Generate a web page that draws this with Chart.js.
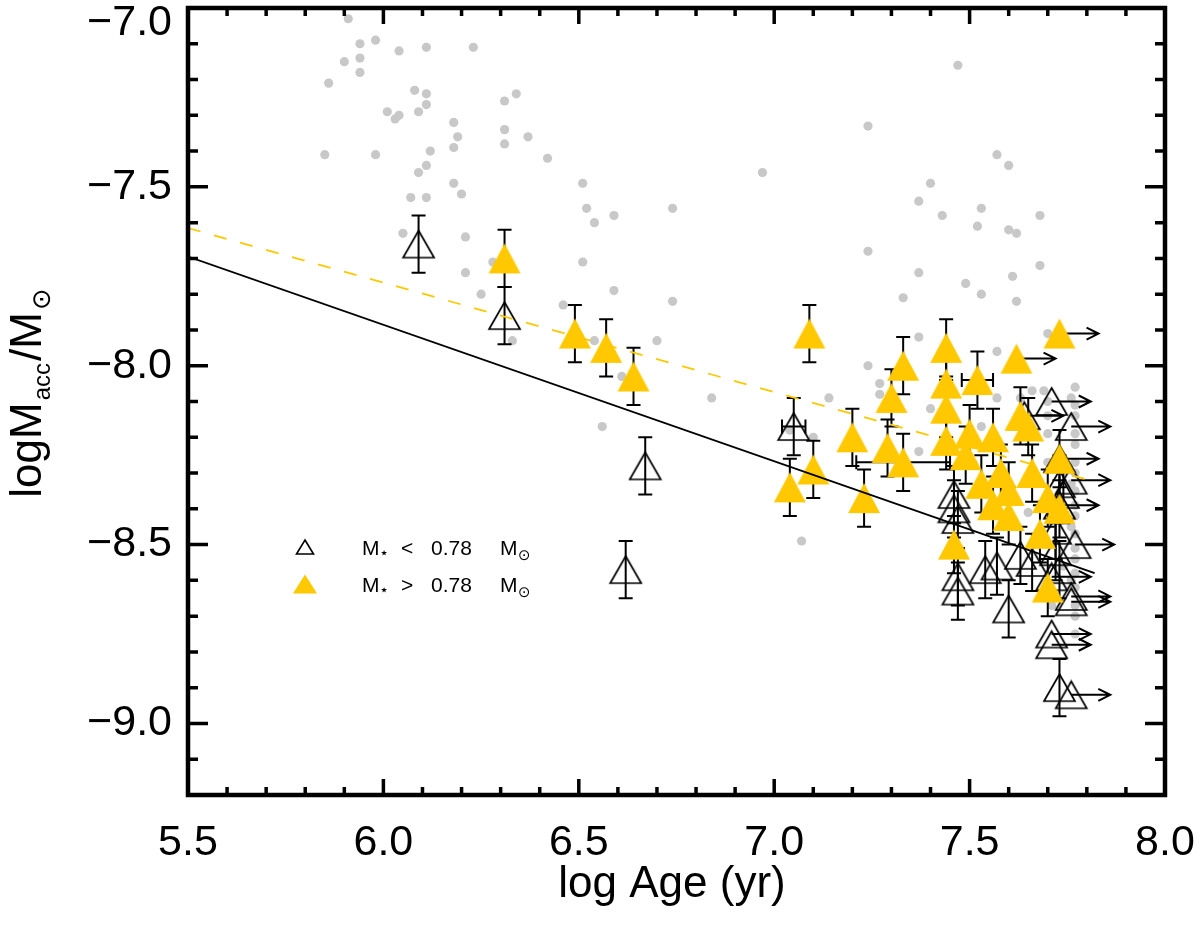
<!DOCTYPE html>
<html lang="en">
<head>
  <meta charset="UTF-8" />
  <title>logMacc vs log Age</title>
  <script src="https://cdn.jsdelivr.net/npm/chart.js"></script>
  <style>
    html, body { margin: 0; padding: 0; background: #fff; }
    canvas { display: block; }
  </style>
</head>
<body>
  <canvas id="accChart" width="1200" height="927"></canvas>

  <script>
    // ---- data ----
    const xTicks = [5.5, 6.0, 6.5, 7.0, 7.5, 8.0];
    const yTicks = [-9.0, -8.5, -8.0, -7.5, -7.0];

    // grey background sample
    const grayAge = [5.91, 5.94, 5.98, 5.90, 5.94, 5.94, 5.86, 6.04, 6.11, 6.23, 6.08, 6.11, 6.11, 6.09, 6.01, 6.03,
      6.04, 6.31, 6.34, 6.18, 6.19, 6.18, 6.31, 6.31, 6.37, 5.85, 5.98, 6.12, 6.11, 6.09, 6.42, 6.18, 6.20, 6.07,
      6.11, 6.51, 6.52, 6.54, 6.05, 6.21, 6.51, 6.21, 6.28, 6.25, 6.46, 6.33, 6.54,
      7.47, 7.24, 7.57, 6.97, 7.40, 7.37, 7.43, 7.53, 7.52, 6.59, 6.74, 7.24, 7.37, 7.49, 7.53, 7.33, 6.59, 6.74,
      7.37, 6.70, 7.24, 7.57, 7.62, 7.70, 7.27, 7.27, 7.14, 7.40, 7.57, 7.63, 7.66, 7.69, 7.53, 7.10, 7.37, 6.84,
      7.04, 7.07, 6.61, 6.56, 7.60, 7.68, 7.60, 7.62, 7.68, 7.61,
      7.77, 7.77, 7.77, 7.77, 7.77, 7.77, 7.77, 7.77, 7.77, 7.77, 7.77, 7.77, 7.77, 7.77, 7.77, 7.77, 7.77, 7.77,
      7.76, 7.76, 7.76, 7.76, 7.70, 7.70, 7.70, 7.70, 7.65, 7.71, 7.74, 7.73];
    const grayAcc = [-7.03, -7.10, -7.09, -7.15, -7.14, -7.18, -7.21, -7.12, -7.11, -7.11, -7.23, -7.24, -7.27, -7.29,
      -7.29, -7.31, -7.30, -7.26, -7.24, -7.32, -7.36, -7.39, -7.34, -7.38, -7.36, -7.41, -7.41, -7.40, -7.44, -7.46,
      -7.42, -7.49, -7.52, -7.53, -7.53, -7.49, -7.56, -7.60, -7.63, -7.64, -7.71, -7.74, -7.71, -7.80, -7.83, -7.93,
      -7.93,
      -7.16, -7.33, -7.41, -7.46, -7.49, -7.54, -7.58, -7.56, -7.61, -7.58, -7.56, -7.68, -7.74, -7.77, -7.80, -7.81,
      -7.79, -7.82, -7.92, -7.93, -8.00, -7.96, -7.82, -7.91, -8.05, -8.08, -8.09, -8.12, -8.09, -8.09, -8.07, -8.07,
      -8.17, -8.20, -8.24, -8.09, -8.18, -8.49, -8.03, -8.17, -7.44, -7.58, -7.62, -7.63, -7.72, -7.75,
      -8.06, -8.11, -8.14, -8.19, -8.22, -8.27, -8.30, -8.35, -8.39, -8.42, -8.47, -8.51, -8.54, -8.58, -8.62, -8.67,
      -8.70, -8.75, -8.09, -8.33, -8.45, -8.60, -8.10, -8.14, -8.19, -8.27, -8.41, -8.67, -8.56, -8.38];

    // M* < 0.78 Msun (open triangles)
    const lowAge = [6.09, 6.31, 6.62, 6.67, 7.05, 7.46, 7.46, 7.47, 7.47, 7.47, 7.54, 7.57, 7.60, 7.63, 7.66, 7.73,
      7.72, 7.72, 7.73, 7.73, 7.74,
      7.71, 7.76, 7.64, 7.73, 7.76, 7.73, 7.77, 7.71, 7.76, 7.76, 7.71, 7.71, 7.76];
    const lowAcc = [-7.66, -7.86, -8.57, -8.28, -8.17, -8.36, -8.40, -8.43, -8.59, -8.63, -8.57, -8.56, -8.68, -8.53,
      -8.55, -8.90, -8.46, -8.52, -8.57, -8.33, -8.36,
      -8.10, -8.17, -8.14, -8.26, -8.32, -8.39, -8.50, -8.59, -8.645, -8.66, -8.75, -8.78, -8.92];
    const lowErr = [0.08, 0.08, 0.08, 0.08, 0.08, 0.08, 0.08, 0.08, 0.08, 0.08, 0.08, 0.08, 0.08, 0.08, 0.08, 0.08,
      0.08, 0.08, 0.08, 0.08, 0.08,
      0, 0, 0, 0, 0, 0, 0, 0, 0, 0, 0, 0, 0];
    const lowAgeErr = [0, 0, 0, 0, 0.03];
    const lowLimit = [0, 0, 0, 0, 0, 0, 0, 0, 0, 0, 0, 0, 0, 0, 0, 0, 0, 0, 0, 0, 0,
      1, 1, 1, 1, 1, 1, 1, 1, 1, 1, 1, 1, 1];

    // M* > 0.78 Msun (filled triangles)
    const highAge = [6.31, 6.49, 6.57, 6.64, 7.09, 7.04, 7.10, 7.20, 7.23, 7.33, 7.30, 7.29, 7.33, 7.44, 7.44, 7.44,
      7.44, 7.46, 7.52, 7.50, 7.56, 7.63, 7.65, 7.73, 7.53, 7.58, 7.60, 7.56, 7.60, 7.66, 7.70, 7.73, 7.68, 7.70,
      7.49, 7.62, 7.73];
    const highAcc = [-7.70, -7.91, -7.95, -8.03, -7.91, -8.34, -8.29, -8.20, -8.37, -8.00, -8.09, -8.23, -8.27, -7.95,
      -8.05, -8.12, -8.21, -8.50, -8.04, -8.19, -8.20, -8.14, -8.17, -8.26, -8.33, -8.30, -8.35, -8.39, -8.42, -8.30,
      -8.37, -8.40, -8.47, -8.62, -8.25, -7.98, -7.91];
    const highErr = [0.08, 0.08, 0.08, 0.08, 0.08, 0.08, 0.08, 0.08, 0.08, 0.08, 0.08, 0.08, 0.08, 0.08, 0.08, 0.08,
      0.08, 0.08, 0.08, 0.08, 0.08, 0.08, 0.08, 0.08, 0.08, 0.08, 0.08, 0.08, 0.08, 0.08, 0.08, 0.08, 0.08, 0.08,
      0.08, 0, 0];
    const highAgeErr = [0, 0, 0, 0, 0, 0, 0, 0, 0, 0, 0, 0, 0.12, 0, 0, 0, 0, 0, 0.04];
    const highLimit = [0, 0, 0, 0, 0, 0, 0, 0, 0, 0, 0, 0, 0, 0, 0, 0, 0, 0, 0, 0, 0, 0, 0, 0, 0, 0, 0, 0, 0, 0,
      0, 0, 0, 0, 0, 1, 1];

    // fitted relations (end points)
    const fitAge = [5.5, 7.82];
    const fitLow = [-7.695, -8.58];
    const fitHighAge = [5.5, 7.80];
    const fitHigh = [-7.615, -8.318];

    const limitLength = 0.1; // arrow length in dex

    const YELLOW = 'rgb(255,200,0)';
    const GREY = 'rgb(200,200,200)';
    const FONT = "'Liberation Sans', Arial, 'DejaVu Sans', sans-serif";

    function pts(xs, ys) {
      return xs.map((x, i) => ({ x: x, y: ys[i] }));
    }

    // triangle symbols, centred on their bounding box like the original
    function makeTriangle(w, h, fill) {
      const c = document.createElement('canvas');
      c.width = w + 4;
      c.height = h + 4;
      const g = c.getContext('2d');
      g.beginPath();
      g.moveTo(c.width / 2, 2);
      g.lineTo(w + 2, h + 2);
      g.lineTo(2, h + 2);
      g.closePath();
      if (fill) {
        g.fillStyle = fill;
        g.fill();
      } else {
        g.lineWidth = 1.7;
        g.strokeStyle = '#000';
        g.stroke();
      }
      return c;
    }
    const openTri = makeTriangle(31, 27, null);
    const fullTri = makeTriangle(32, 30, YELLOW);

    function drawBars(ctx, xs, ys, age, acc, err, ageErr, lim) {
      ctx.strokeStyle = '#000';
      ctx.lineWidth = 2;
      const cap = 7;
      age.forEach((a, i) => {
        const px = xs.getPixelForValue(a);
        const py = ys.getPixelForValue(acc[i]);
        ctx.beginPath();
        if (err[i]) {
          const t = ys.getPixelForValue(acc[i] + err[i]);
          const b = ys.getPixelForValue(acc[i] - err[i]);
          ctx.moveTo(px, t); ctx.lineTo(px, b);
          ctx.moveTo(px - cap, t); ctx.lineTo(px + cap, t);
          ctx.moveTo(px - cap, b); ctx.lineTo(px + cap, b);
        }
        if (ageErr[i]) {
          const l = xs.getPixelForValue(a - ageErr[i]);
          const r = xs.getPixelForValue(a + ageErr[i]);
          ctx.moveTo(l, py); ctx.lineTo(r, py);
          ctx.moveTo(l, py - cap); ctx.lineTo(l, py + cap);
          ctx.moveTo(r, py - cap); ctx.lineTo(r, py + cap);
        }
        if (lim[i]) {
          const tip = xs.getPixelForValue(a + limitLength);
          ctx.moveTo(px, py); ctx.lineTo(tip, py);
          ctx.moveTo(tip - 12, py - 6); ctx.lineTo(tip, py); ctx.lineTo(tip - 12, py + 6);
        }
        ctx.stroke();
      });
    }

    function legendTri(ctx, cx, cy, w, h, fill) {
      ctx.beginPath();
      ctx.moveTo(cx, cy - h / 2);
      ctx.lineTo(cx + w / 2, cy + h / 2);
      ctx.lineTo(cx - w / 2, cy + h / 2);
      ctx.closePath();
      if (fill) { ctx.fillStyle = fill; ctx.fill(); }
      else { ctx.strokeStyle = '#000'; ctx.lineWidth = 1.6; ctx.stroke(); }
    }

    function legendText(ctx, y, sign) {
      ctx.fillStyle = '#000';
      ctx.textBaseline = 'alphabetic';
      ctx.textAlign = 'left';
      ctx.font = '21px ' + FONT;
      ctx.fillText('M', 362, y + 8);
      ctx.fillText(sign, 401, y + 8);
      ctx.fillText('0.78', 431, y + 8);
      ctx.fillText('M', 500, y + 8);
      ctx.font = 'bold 13px ' + FONT;
      ctx.fillText('\u22C6', 380, y + 10);
      ctx.font = '15px ' + FONT;
      ctx.fillText('\u2299', 518, y + 13);
    }

    const extras = {
      id: 'extras',
      afterDatasetDraw(chart, args) {
        // error bars and limit arrows sit above the grey sample, below the triangles
        if (chart.data.datasets[args.index].label !== 'sample') return;
        const ctx = chart.ctx;
        const xs = chart.scales.x, ys = chart.scales.y;
        const a = chart.chartArea;
        ctx.save();
        ctx.beginPath();
        ctx.rect(a.left, a.top, a.right - a.left, a.bottom - a.top);
        ctx.clip();
        drawBars(ctx, xs, ys, lowAge, lowAcc, lowErr, lowAgeErr, lowLimit);
        drawBars(ctx, xs, ys, highAge, highAcc, highErr, highAgeErr, highLimit);
        ctx.restore();
      },
      afterDraw(chart) {
        const ctx = chart.ctx;
        const xs = chart.scales.x, ys = chart.scales.y;
        const a = chart.chartArea;
        ctx.save();

        // inward ticks, IDL style
        ctx.strokeStyle = '#000';
        ctx.lineWidth = 3.5;
        ctx.beginPath();
        for (let v = 55; v <= 80; v++) {
          const px = xs.getPixelForValue(v / 10);
          const len = v % 5 === 0 ? 16 : 8;
          ctx.moveTo(px, a.bottom); ctx.lineTo(px, a.bottom - len);
          ctx.moveTo(px, a.top); ctx.lineTo(px, a.top + len);
        }
        for (let v = -92; v <= -70; v++) {
          const py = ys.getPixelForValue(v / 10);
          const len = v % 5 === 0 ? 20 : 10;
          ctx.moveTo(a.left, py); ctx.lineTo(a.left + len, py);
          ctx.moveTo(a.right, py); ctx.lineTo(a.right - len, py);
        }
        ctx.stroke();

        // frame
        ctx.lineWidth = 4.5;
        ctx.strokeRect(a.left, a.top, a.right - a.left, a.bottom - a.top);

        // top y label, pushed below the frame edge as in the original
        ctx.fillStyle = '#000';
        ctx.font = '43px ' + FONT;
        ctx.textAlign = 'right';
        ctx.textBaseline = 'middle';
        ctx.fillText('\u22127.0', a.left - 16, 23);

        // x title
        ctx.textAlign = 'center';
        ctx.textBaseline = 'alphabetic';
        ctx.font = '44px ' + FONT;
        ctx.fillText('log Age (yr)', 672, 897);

        // y title with subscripts
        const parts = [
          ['logM', 44, 0], ['acc', 24, 9], ['/M', 44, 0], ['\u2299', 26, 9]
        ];
        let total = 0;
        parts.forEach(p => { ctx.font = p[1] + 'px ' + FONT; total += ctx.measureText(p[0]).width + 2; });
        ctx.translate(41, 392 + total / 2);
        ctx.rotate(-Math.PI / 2);
        ctx.textAlign = 'left';
        let off = 0;
        parts.forEach(p => {
          ctx.font = p[1] + 'px ' + FONT;
          ctx.fillText(p[0], off, p[2]);
          off += ctx.measureText(p[0]).width + 2;
        });
        ctx.setTransform(1, 0, 0, 1, 0, 0);

        // legend
        legendTri(ctx, 305, 547, 17, 14, null);
        legendTri(ctx, 305, 584, 24, 19, YELLOW);
        legendText(ctx, 547, '<');
        legendText(ctx, 584, '>');

        ctx.restore();
      }
    };

    const tickFmt = v => v.toFixed(1).replace('-', '\u2212');

    new Chart(document.getElementById('accChart'), {
      type: 'scatter',
      data: {
        datasets: [
          {
            label: 'fit low',
            data: pts(fitAge, fitLow),
            showLine: true,
            borderColor: '#000',
            borderWidth: 1.8,
            pointRadius: 0,
            order: 0
          },
          {
            label: 'fit high',
            data: pts(fitHighAge, fitHigh),
            showLine: true,
            borderColor: YELLOW,
            borderWidth: 1.8,
            borderDash: [13, 14],
            pointRadius: 0,
            order: 0
          },
          {
            label: 'M* > 0.78',
            data: pts(highAge, highAcc),
            pointStyle: fullTri,
            order: 1
          },
          {
            label: 'M* < 0.78',
            data: pts(lowAge, lowAcc),
            pointStyle: openTri,
            order: 2
          },
          {
            label: 'sample',
            data: pts(grayAge, grayAcc),
            pointStyle: 'circle',
            pointRadius: 4.6,
            pointBorderWidth: 0,
            backgroundColor: GREY,
            order: 3
          }
        ]
      },
      options: {
        responsive: false,
        animation: false,
        events: [],
        layout: { padding: { top: 8, right: 35, left: 0, bottom: 0 } },
        plugins: {
          legend: { display: false },
          tooltip: { enabled: false }
        },
        scales: {
          x: {
            type: 'linear',
            min: 5.5,
            max: 8.0,
            afterBuildTicks: s => { s.ticks = xTicks.map(v => ({ value: v })); },
            afterFit: s => { s.height = 132; s.paddingLeft = 0; s.paddingRight = 0; },
            grid: { display: false, drawTicks: false },
            border: { display: false },
            ticks: {
              autoSkip: false,
              maxRotation: 0,
              padding: 22,
              color: '#000',
              font: { family: FONT, size: 43 },
              callback: tickFmt
            }
          },
          y: {
            type: 'linear',
            min: -9.2,
            max: -7.0,
            afterBuildTicks: s => { s.ticks = yTicks.map(v => ({ value: v })); },
            afterFit: s => { s.width = 188; s.paddingTop = 0; s.paddingBottom = 0; },
            grid: { display: false, drawTicks: false },
            border: { display: false },
            ticks: {
              autoSkip: false,
              padding: 16,
              color: '#000',
              font: { family: FONT, size: 43 },
              callback: v => (v === -7 ? '' : tickFmt(v))
            }
          }
        }
      },
      plugins: [extras]
    });
  </script>
</body>
</html>
